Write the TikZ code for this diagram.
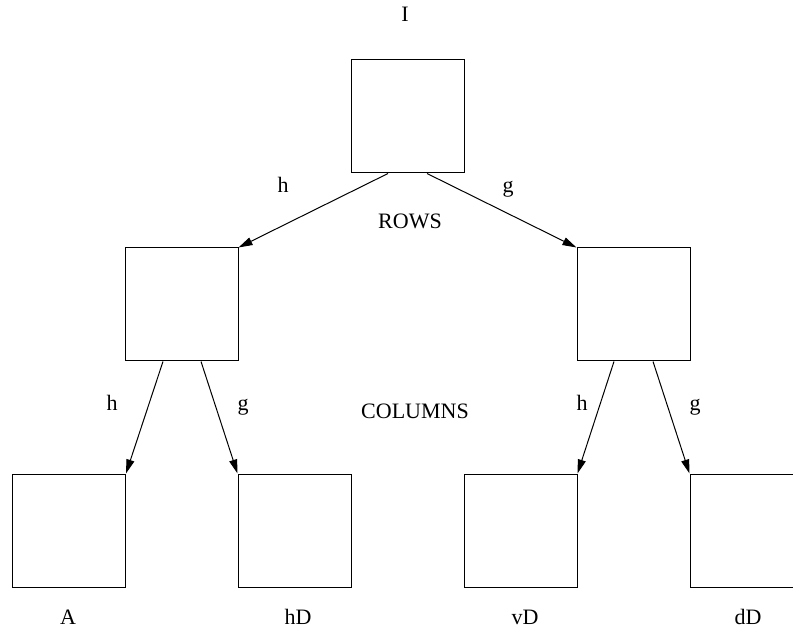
\documentclass[tikz,border=0pt]{standalone}
\usepackage{fontspec}
\setmainfont{Liberation Serif}
\usetikzlibrary{arrows.meta}
\begin{document}
\begin{tikzpicture}[x=1pt,y=-1pt,
  box/.style={draw=black,line width=1pt,minimum width=113pt,minimum height=113pt,inner sep=0pt},
  lbl/.style={font=\fontsize{22pt}{26pt}\selectfont,inner sep=0pt,anchor=base},
  botlbl/.style={lbl,text depth=0pt},
  arr/.style={line width=1pt,-{Triangle[length=14pt,width=8pt]}}]
\clip (0,0) rectangle (793,628);
\fill[white] (0,0) rectangle (793,628);
\node[box] (top) at (407.5,116.5) {};
\node[box] (ml) at (181.5,304.5) {};
\node[box] (mr) at (633.5,304.5) {};
\node[box] (b1) at (69,530.5) {};
\node[box] (b2) at (294.5,530.5) {};
\node[box] (b3) at (520.5,530.5) {};
\node[box] (b4) at (746.5,530.5) {};
\draw[arr] ([xshift=-19.5pt]top.south) -- (ml.north east);
\draw[arr] ([xshift=19.5pt]top.south) -- (mr.north west);
\draw[arr] ([xshift=-18.5pt]ml.south) -- (b1.north east);
\draw[arr] ([xshift=19.5pt]ml.south) -- (b2.north west);
\draw[arr] ([xshift=-19.5pt]mr.south) -- (b3.north east);
\draw[arr] ([xshift=19.5pt]mr.south) -- (b4.north west);
\node[lbl] (tI) at (405,22) {I};
\node[lbl] (tRows) at (410,229) {ROWS};
\node[lbl] (tCols) at (415,418) {COLUMNS};
\node[lbl] (th1) at (283,193) {h};
\node[lbl] (tg1) at (508,193) {g};
\node[lbl] (th2) at (112,410) {h};
\node[lbl] (tg2) at (243,410) {g};
\node[lbl] (th3) at (582,410) {h};
\node[lbl] (tg3) at (695,410) {g};
\node[botlbl] (tA) at (68,624) {A};
\node[botlbl] (thD) at (298,624) {hD};
\node[botlbl] (tvD) at (525,624) {vD};
\node[botlbl] (tdD) at (748,624) {dD};
\end{tikzpicture}
\end{document}
